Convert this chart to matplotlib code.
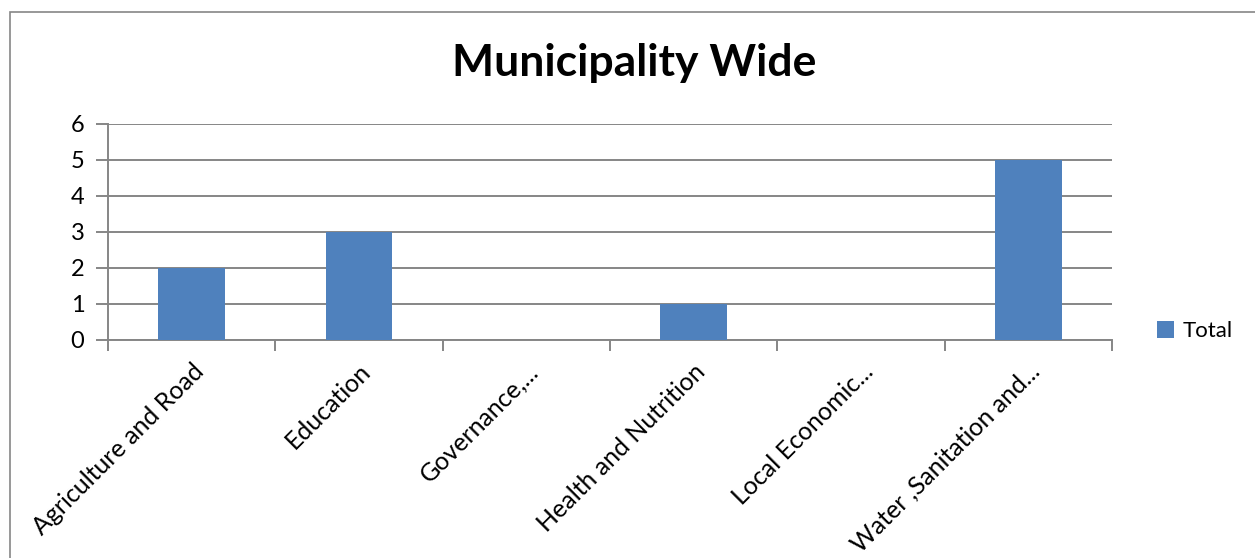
import matplotlib.pyplot as plt
import numpy as np
from matplotlib.patches import Rectangle

categories = ['Agriculture and Road', 'Education', 'Governance,...',
              'Health and Nutrition', 'Local Economic...', 'Water ,Sanitation and...']
totals = [2, 3, 0, 1, 0, 5]
yticks = [0, 1, 2, 3, 4, 5, 6]

plt.rcParams['font.family'] = ['Lato', 'DejaVu Sans']
grey = '#868686'
blue = '#4F81BD'

fig = plt.figure(figsize=(12.55, 5.58), dpi=100)
W, H = 1255, 558
ax = fig.add_axes([108 / W, 1 - 340 / H, (1112 - 108) / W, (340 - 124) / H])

# outer chart frame
fig.patches.append(Rectangle((10 / W, -0.05), 1.1, 1 - 12 / H + 0.05, transform=fig.transFigure,
                             fill=False, edgecolor=grey, linewidth=1.2))

x = np.arange(len(categories))
ax.bar(x, totals, width=0.4, color=blue, label='Total', zorder=3)

ax.set_xlim(-0.5, len(categories) - 0.5)
ax.set_ylim(0, 6)
ax.set_yticks(yticks)
ax.set_yticklabels([str(v) for v in yticks], fontsize=17)
ax.grid(axis='y', color=grey, linewidth=1.4, zorder=0)

ax.set_xticks(x)
ax.set_xticklabels(categories, rotation=45, ha='right', va='top', rotation_mode='anchor', fontsize=18)
ax.tick_params(axis='x', which='major', length=0, pad=14)
ax.set_xticks(np.arange(len(categories) + 1) - 0.5, minor=True)
ax.tick_params(axis='x', which='minor', length=8, width=1.4, color=grey, direction='out')
ax.tick_params(axis='y', length=9, width=1.4, color=grey, pad=8)

for s in ['top', 'right']:
    ax.spines[s].set_visible(False)
for s in ['left', 'bottom']:
    ax.spines[s].set_color(grey)
    ax.spines[s].set_linewidth(1.4)

fig.text(634 / W, 1 - 63 / H, 'Municipality Wide', fontsize=32, fontweight='bold',
         ha='center', va='center')

ax.legend(loc='center left', bbox_to_anchor=(1.025, 0.04), frameon=False, fontsize=16,
          handlelength=0.75, handleheight=0.75, handletextpad=0.4)

fig.savefig('out.png', dpi=100)
